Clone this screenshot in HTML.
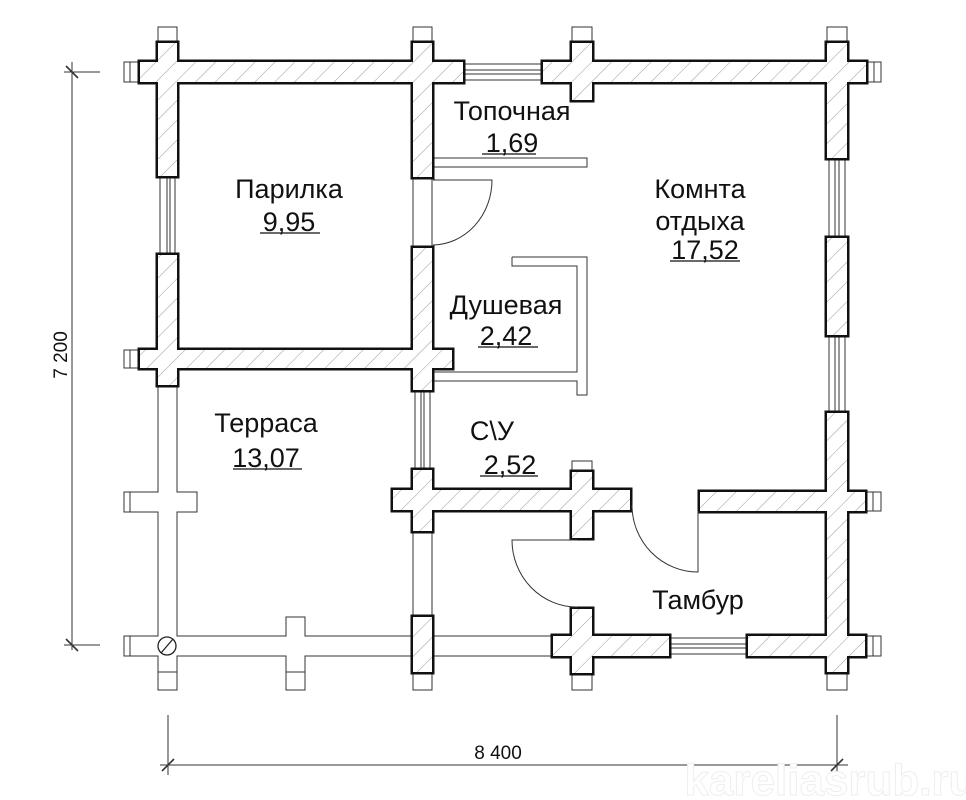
<!DOCTYPE html>
<html><head><meta charset="utf-8"><style>
html,body{margin:0;padding:0;background:#fff;}
svg{display:block;}
text{font-family:"Liberation Sans",sans-serif;}
</style></head><body>
<svg width="966" height="800" viewBox="0 0 966 800" xmlns="http://www.w3.org/2000/svg">
<defs>
<pattern id="h" patternUnits="userSpaceOnUse" width="14" height="14" patternTransform="rotate(45)">
<rect width="14" height="14" fill="#fff"/>
<line x1="0" y1="0" x2="0" y2="14" stroke="#999" stroke-width="1"/>
</pattern>
</defs>

<g fill="#fff" stroke="#333" stroke-width="1">
<rect x="158" y="27" width="19" height="16"/>
<rect x="413" y="27" width="19" height="16"/>
<rect x="572" y="27" width="20" height="16"/>
<rect x="827" y="27" width="20" height="16"/>
<rect x="124" y="62" width="16" height="20"/><line x1="130" y1="62" x2="130" y2="82"/>
<rect x="866" y="62" width="15" height="20"/><line x1="874" y1="62" x2="874" y2="82"/>
<rect x="124" y="350" width="16" height="18"/><line x1="130" y1="350" x2="130" y2="368"/>
<rect x="572" y="461" width="20" height="12"/>
<rect x="865" y="492" width="16" height="19"/><line x1="873" y1="492" x2="873" y2="511"/>
<rect x="865" y="636" width="16" height="20"/><line x1="873" y1="636" x2="873" y2="656"/>
<rect x="158" y="672" width="19" height="18"/>
<rect x="286" y="672" width="19" height="18"/>
<rect x="413" y="672" width="19" height="18"/>
<rect x="572" y="672" width="20" height="18"/>
<rect x="827" y="672" width="20" height="18"/>
<path d="M158 385 V492 H130 V512 H158 V636 H130 V656 H158 V672 H177 V656 H286 V672 H305 V656 H413 V636 H305 V617 H286 V636 H177 V512 H197 V492 H177 V385 Z"/>
<rect x="124" y="492" width="6" height="20"/>
<rect x="124" y="636" width="6" height="20"/>
<line x1="432" y1="636" x2="553" y2="636"/><line x1="432" y1="656" x2="553" y2="656"/>
<rect x="413" y="530" width="19" height="87"/>
<rect x="160" y="176" width="15" height="79"/><line x1="167" y1="176" x2="167" y2="255"/><line x1="170" y1="176" x2="170" y2="255"/>
<rect x="463" y="64" width="80" height="16"/><line x1="463" y1="70" x2="543" y2="70"/><line x1="463" y1="74" x2="543" y2="74"/>
<rect x="829" y="158" width="16" height="80"/><line x1="835" y1="158" x2="835" y2="238"/><line x1="839" y1="158" x2="839" y2="238"/>
<rect x="829" y="335" width="16" height="78"/><line x1="835" y1="335" x2="835" y2="413"/><line x1="839" y1="335" x2="839" y2="413"/>
<rect x="415" y="390" width="15" height="80"/><line x1="421" y1="390" x2="421" y2="470"/><line x1="424" y1="390" x2="424" y2="470"/>
<rect x="669" y="638" width="79" height="16"/><line x1="669" y1="644" x2="748" y2="644"/><line x1="669" y1="648" x2="748" y2="648"/>
<rect x="413" y="177" width="19" height="71"/>
<path d="M432 158 H587 V167 H432"/>
</g>
<g fill="none" stroke="#333" stroke-width="1">
<path d="M512 257 H587 V395 H577 V381 H432 M432 372 H577 V266 H512 V257"/>
</g>
<circle cx="167" cy="646" r="9" fill="none" stroke="#222" stroke-width="1.3"/>
<line x1="161" y1="653" x2="173" y2="639" stroke="#222" stroke-width="1.3"/>

<g stroke="#111" stroke-width="5" fill="#111">
<path d="M140 62 H158 V43 H177 V62 H413 V43 H432 V62 H463 V82 H432 V177 H413 V82 H177 V176 H158 V82 H140 Z"/>
<path d="M158 255 H177 V350 H413 V248 H432 V350 H452 V368 H432 V390 H413 V368 H177 V385 H158 V368 H140 V350 H158 Z"/>
<path d="M543 62 H572 V43 H592 V62 H827 V43 H847 V62 H866 V82 H847 V158 H827 V82 H592 V100 H572 V82 H543 Z"/>
<rect x="827" y="238" width="20" height="97"/>
<path d="M827 413 H847 V492 H865 V511 H847 V636 H865 V656 H847 V672 H827 V656 H748 V636 H827 V511 H700 V492 H827 Z"/>
<path d="M393 490 H413 V470 H432 V490 H572 V472 H592 V490 H630 V510 H592 V538 H572 V510 H432 V531 H413 V510 H393 Z"/>
<path d="M553 636 H572 V609 H592 V636 H669 V656 H592 V673 H572 V656 H553 Z"/>
<rect x="413" y="617" width="19" height="55"/>
</g>
<g fill="url(#h)" stroke="none">
<path d="M140 62 H158 V43 H177 V62 H413 V43 H432 V62 H463 V82 H432 V177 H413 V82 H177 V176 H158 V82 H140 Z"/>
<path d="M158 255 H177 V350 H413 V248 H432 V350 H452 V368 H432 V390 H413 V368 H177 V385 H158 V368 H140 V350 H158 Z"/>
<path d="M543 62 H572 V43 H592 V62 H827 V43 H847 V62 H866 V82 H847 V158 H827 V82 H592 V100 H572 V82 H543 Z"/>
<rect x="827" y="238" width="20" height="97"/>
<path d="M827 413 H847 V492 H865 V511 H847 V636 H865 V656 H847 V672 H827 V656 H748 V636 H827 V511 H700 V492 H827 Z"/>
<path d="M393 490 H413 V470 H432 V490 H572 V472 H592 V490 H630 V510 H592 V538 H572 V510 H432 V531 H413 V510 H393 Z"/>
<path d="M553 636 H572 V609 H592 V636 H669 V656 H592 V673 H572 V656 H553 Z"/>
<rect x="413" y="617" width="19" height="55"/>
</g>

<g fill="none" stroke="#333" stroke-width="1">
<path d="M433 180 H492 A60 65 0 0 1 433 245"/>
<path d="M632 505 A66 67 0 0 0 698 572 V511"/>
<path d="M577 540 H512 A65 67 0 0 0 577 607"/>
</g>

<g stroke="#333" stroke-width="1" fill="none">
<line x1="72" y1="62" x2="72" y2="650"/>
<line x1="64" y1="72" x2="100" y2="72"/>
<line x1="64" y1="645" x2="100" y2="645"/>
<line x1="66" y1="66" x2="78" y2="78" stroke-width="1.6"/>
<line x1="66" y1="639" x2="78" y2="651" stroke-width="1.6"/>
<line x1="160" y1="765" x2="848" y2="765"/>
<line x1="168" y1="715" x2="168" y2="775"/>
<line x1="837" y1="715" x2="837" y2="775"/>
<line x1="162" y1="771" x2="174" y2="759" stroke-width="1.6"/>
<line x1="831" y1="771" x2="843" y2="759" stroke-width="1.6"/>
</g>
<g fill="#111">
<text x="0" y="0" font-size="19" text-anchor="middle" transform="translate(67,355) rotate(-90)">7 200</text>
<text x="498" y="759" font-size="19" text-anchor="middle">8 400</text>
</g>

<g font-size="27" text-anchor="middle" fill="#111">
<text x="289" y="198">Парилка</text>
<text x="289" y="231">9,95</text>
<text x="512" y="120">Топочная</text>
<text x="512" y="152">1,69</text>
<text x="700" y="198">Комнта</text>
<text x="700" y="230">отдыха</text>
<text x="705" y="259">17,52</text>
<text x="506" y="314">Душевая</text>
<text x="506" y="345">2,42</text>
<text x="266" y="432">Терраса</text>
<text x="266" y="467">13,07</text>
<text x="492" y="440">С\У</text>
<text x="510" y="474">2,52</text>
<text x="698" y="609">Тамбур</text>
</g>
<g stroke="#111" stroke-width="1.3">
<line x1="260" y1="233" x2="320" y2="233"/>
<line x1="482" y1="154" x2="536" y2="154"/>
<line x1="670" y1="261" x2="740" y2="261"/>
<line x1="478" y1="347" x2="538" y2="347"/>
<line x1="233" y1="469" x2="302" y2="469"/>
<line x1="480" y1="476" x2="538" y2="476"/>
</g>

<text x="830" y="795" font-size="44" text-anchor="middle" style="fill:#fff;stroke:#eee;stroke-width:1" font-weight="bold">kareliasrub.ru</text>
</svg>
</body></html>
